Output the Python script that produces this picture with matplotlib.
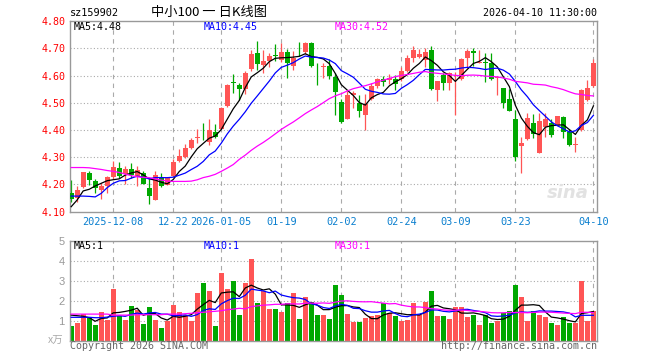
import numpy as np
import matplotlib
matplotlib.use('Agg')
import matplotlib.pyplot as plt
import pandas as pd

# ---------------- data ----------------
opens = [4.170, 4.151, 4.190, 4.243, 4.212, 4.179, 4.194, 4.229, 4.259, 4.237,
         4.255, 4.227, 4.241, 4.188, 4.143, 4.225, 4.199, 4.231, 4.286, 4.301,
         4.334, 4.369, 4.383, 4.357, 4.394, 4.405, 4.488, 4.575, 4.565, 4.550,
         4.623, 4.684, 4.638, 4.654, 4.676, 4.656, 4.687, 4.635, 4.688, 4.687,
         4.721, 4.633, 4.632, 4.635, 4.595, 4.503, 4.442, 4.530, 4.500, 4.455,
         4.513, 4.562, 4.589, 4.583, 4.589, 4.586, 4.617, 4.666, 4.668, 4.657,
         4.694, 4.547, 4.602, 4.574, 4.575, 4.586, 4.663, 4.692, 4.647, 4.650,
         4.645, 4.590, 4.553, 4.514, 4.439, 4.342, 4.367, 4.425, 4.317, 4.412,
         4.425, 4.418, 4.447, 4.394, 4.345, 4.400, 4.510, 4.562]
highs = [4.216, 4.194, 4.246, 4.249, 4.221, 4.206, 4.231, 4.286, 4.282, 4.268,
         4.278, 4.268, 4.249, 4.219, 4.249, 4.241, 4.228, 4.292, 4.329, 4.347,
         4.372, 4.403, 4.425, 4.439, 4.421, 4.483, 4.570, 4.605, 4.574, 4.617,
         4.694, 4.727, 4.694, 4.684, 4.715, 4.721, 4.697, 4.690, 4.724, 4.722,
         4.722, 4.648, 4.648, 4.660, 4.611, 4.513, 4.543, 4.545, 4.527, 4.531,
         4.574, 4.592, 4.599, 4.605, 4.601, 4.633, 4.675, 4.709, 4.697, 4.703,
         4.709, 4.581, 4.608, 4.612, 4.614, 4.666, 4.697, 4.700, 4.694, 4.682,
         4.682, 4.598, 4.556, 4.550, 4.474, 4.376, 4.461, 4.459, 4.464, 4.464,
         4.442, 4.453, 4.452, 4.403, 4.373, 4.549, 4.584, 4.660]
lows = [4.137, 4.137, 4.188, 4.197, 4.170, 4.148, 4.167, 4.219, 4.225, 4.200,
        4.222, 4.194, 4.200, 4.129, 4.141, 4.192, 4.196, 4.229, 4.284, 4.298,
        4.329, 4.353, 4.363, 4.344, 4.371, 4.404, 4.486, 4.537, 4.510, 4.531,
        4.617, 4.619, 4.611, 4.633, 4.654, 4.650, 4.592, 4.621, 4.672, 4.678,
        4.632, 4.564, 4.592, 4.586, 4.455, 4.424, 4.440, 4.482, 4.449, 4.400,
        4.511, 4.556, 4.562, 4.570, 4.547, 4.580, 4.613, 4.650, 4.666, 4.633,
        4.546, 4.507, 4.547, 4.547, 4.455, 4.584, 4.629, 4.635, 4.645, 4.578,
        4.584, 4.527, 4.482, 4.469, 4.287, 4.243, 4.365, 4.369, 4.314, 4.376,
        4.374, 4.417, 4.372, 4.341, 4.320, 4.397, 4.508, 4.559]
closes = [4.145, 4.179, 4.246, 4.215, 4.186, 4.194, 4.227, 4.264, 4.231, 4.255,
          4.233, 4.253, 4.203, 4.157, 4.233, 4.194, 4.224, 4.282, 4.304, 4.333,
          4.363, 4.374, 4.380, 4.399, 4.374, 4.482, 4.564, 4.571, 4.552, 4.611,
          4.678, 4.641, 4.654, 4.672, 4.673, 4.687, 4.645, 4.663, 4.686, 4.721,
          4.635, 4.630, 4.634, 4.599, 4.541, 4.429, 4.529, 4.536, 4.470, 4.494,
          4.562, 4.589, 4.577, 4.590, 4.568, 4.617, 4.666, 4.694, 4.678, 4.687,
          4.550, 4.580, 4.574, 4.611, 4.578, 4.660, 4.692, 4.682, 4.650, 4.646,
          4.586, 4.595, 4.500, 4.471, 4.302, 4.351, 4.443, 4.384, 4.434, 4.439,
          4.380, 4.451, 4.392, 4.345, 4.350, 4.547, 4.553, 4.648]
volumes = [0.73, 0.90, 1.33, 1.12, 0.78, 1.43, 1.03, 2.60, 1.23, 1.03,
           1.73, 1.53, 0.83, 1.67, 1.03, 0.62, 1.00, 1.78, 1.43, 1.28,
           1.00, 2.40, 2.90, 2.50, 0.73, 3.40, 2.60, 3.00, 1.28, 2.90,
           4.10, 1.90, 2.50, 1.57, 1.57, 1.43, 1.87, 2.40, 1.07, 2.20,
           1.93, 1.28, 1.28, 1.08, 2.80, 2.30, 1.33, 0.93, 0.93, 1.12,
           1.23, 1.28, 1.87, 1.37, 1.23, 1.00, 1.03, 1.87, 1.28, 1.95,
           2.50, 1.23, 1.23, 1.08, 1.67, 1.70, 1.20, 1.30, 0.80, 1.30,
           0.90, 1.00, 1.40, 1.50, 2.80, 2.20, 1.00, 1.50, 1.30, 1.20,
           0.90, 0.80, 1.20, 0.90, 0.90, 3.00, 1.00, 1.50]

# moving-average values read off the chart where the window has no history
ma5_head = [4.118, 4.143, 4.176, 4.182]
ma10_head = [4.157, 4.157, 4.157, 4.156, 4.154, 4.167, 4.188, 4.204, 4.213]
ma30_head = [4.262, 4.262, 4.262, 4.261, 4.258, 4.255, 4.251, 4.248, 4.244, 4.238,
             4.232, 4.228, 4.226, 4.225, 4.220, 4.216, 4.212, 4.211, 4.211, 4.211,
             4.212, 4.217, 4.225, 4.230, 4.237, 4.248, 4.260, 4.273, 4.292]
vol_ma5_head = [1.28, 1.25, 1.22, 1.15]
vol_ma10_head = [1.17, 1.17, 1.17, 1.17, 1.15, 1.15, 1.18, 1.22, 1.25]
vol_ma30_head = [1.33, 1.33, 1.33, 1.33, 1.33, 1.33, 1.33, 1.28, 1.28, 1.28,
                 1.28, 1.30, 1.30, 1.30, 1.30, 1.30, 1.33, 1.33, 1.33, 1.35,
                 1.37, 1.40, 1.42, 1.45, 1.47, 1.50, 1.55, 1.58, 1.62]

tick_idx = [7, 17, 25, 35, 45, 55, 64, 74, 87]
tick_labels = ['2025-12-08', '12-22', '2026-01-05', '01-19', '02-02',
               '02-24', '03-09', '03-23', '04-10']
price_ticks = [4.10, 4.20, 4.30, 4.40, 4.50, 4.60, 4.70, 4.80]
vol_ticks = [1, 2, 3, 4, 5]

title_code = 'sz159902'
title_name = '中小100 一 日K线图'
timestamp = '2026-04-10 11:30:00'
legend_price = ['MA5:4.48', 'MA10:4.45', 'MA30:4.52']
legend_vol = ['MA5:1', 'MA10:1', 'MA30:1']

# ---------------- style ----------------
RED = '#ff5555'
GREEN = '#00a800'
MA_COLORS = ['#000000', '#0000ff', '#ff00ff']
FRAME = '#999999'
GRID = '#aaaaaa'
MONO = 'DejaVu Sans Mono'
W, H = 660, 360

def fx(px):
    return px / W

def fy(py):
    return 1 - py / H

def moving(values, n, head):
    s = pd.Series(values).rolling(n).mean().to_numpy()
    s[:len(head)] = head
    return s

fig = plt.figure(figsize=(6.6, 3.6), dpi=100)
fig.patch.set_facecolor('white')

# axes geometry (pixels)
L, R = 70, 597
T1, B1 = 21.2, 211.6
T2, B2 = 240.7, 340.7
ax = fig.add_axes([fx(L), fy(B1), fx(R - L), (B1 - T1) / H])
ax2 = fig.add_axes([fx(L), fy(B2), fx(R - L), (B2 - T2) / H])

n = len(closes)
x = np.arange(n)
xlim = (-0.2, 87.6)
up = [c >= o for o, c in zip(opens, closes)]
cols = [RED if u else GREEN for u in up]

for a in (ax, ax2):
    a.set_xlim(*xlim)
    for s in a.spines.values():
        s.set_color(FRAME)
        s.set_linewidth(1.0)
    a.tick_params(length=0)
    for t in tick_idx:
        a.axvline(t, color=GRID, lw=0.8, ls=(0, (4, 4)), zorder=0)

# ---- price panel ----
ax.set_ylim(4.10, 4.80)
for p in price_ticks[1:-1]:
    ax.axhline(p, color=GRID, lw=0.8, ls=(0, (1, 2)), zorder=0)

ax.vlines(x, lows, highs, colors=cols, lw=0.9, zorder=2)
body_bottom = np.minimum(opens, closes)
body_h = np.abs(np.array(closes) - np.array(opens))
ax.bar(x, np.maximum(body_h, 0.0025), bottom=body_bottom, width=0.78,
       color=cols, linewidth=0, zorder=3)

ma_lines = [moving(closes, 5, ma5_head), moving(closes, 10, ma10_head),
            moving(closes, 30, ma30_head)]
for m, c in zip(ma_lines, MA_COLORS):
    ax.plot(x, m, color=c, lw=0.9, zorder=4)

ax.set_yticks(price_ticks)
ax.set_yticklabels(['%.2f' % p for p in price_ticks], color='#ff0000',
                   family=MONO, fontsize=7.2)
ax.tick_params(axis='y', pad=3)
ax.set_xticks(tick_idx)
ax.set_xticklabels(tick_labels, color='#0a7fcf', family=MONO, fontsize=7.4)
ax.tick_params(axis='x', pad=4)

# watermark
ax.text(0.985, 0.05, 'sina', transform=ax.transAxes, ha='right', va='bottom',
        fontsize=13, color='#e2e2e2', style='italic', weight='bold', zorder=1)

# ---- volume panel ----
ax2.set_ylim(0, 5)
for v in vol_ticks[:-1]:
    ax2.axhline(v, color=GRID, lw=0.8, ls=(0, (1, 2)), zorder=0)
ax2.bar(x, volumes, width=0.78, color=cols, linewidth=0, zorder=2)
vol_ma = [moving(volumes, 5, vol_ma5_head), moving(volumes, 10, vol_ma10_head),
          moving(volumes, 30, vol_ma30_head)]
for m, c in zip(vol_ma, MA_COLORS):
    ax2.plot(x, m, color=c, lw=0.9, zorder=4)
ax2.set_yticks(vol_ticks)
ax2.set_yticklabels([str(v) for v in vol_ticks], color='#999999',
                    family='Liberation Sans', fontsize=8)
ax2.tick_params(axis='y', pad=4)
ax2.set_xticks([])

# ---- texts ----
fig.text(fx(70), fy(13), title_code, family=MONO, fontsize=7.4,
         ha='left', va='center', color='#000000')
fig.text(fx(209), fy(12.5), title_name, family=['Noto Sans CJK SC', 'DejaVu Sans'],
         fontsize=9.5, ha='center', va='center', color='#000000')
fig.text(fx(597), fy(13), timestamp, family=MONO, fontsize=7.2,
         ha='right', va='center', color='#000000')

for txt, px, c in zip(legend_price, [74, 204, 334.5], MA_COLORS):
    fig.text(fx(px), fy(26.5), txt, family=MONO, fontsize=7.2, ha='left',
             va='center', color=c)
for txt, px, c in zip(legend_vol, [74, 204, 334.5], MA_COLORS):
    fig.text(fx(px), fy(246), txt, family=MONO, fontsize=7.2, ha='left',
             va='center', color=c)

fig.text(fx(63), fy(341), 'x万', family=['Noto Sans CJK SC', 'DejaVu Sans'],
         fontsize=7.5, ha='right', va='center', color='#aaaaaa', style='italic')
fig.text(fx(70), fy(346), 'Copyright 2026 SINA.COM', family=MONO, fontsize=7.2,
         ha='left', va='center', color='#666666')
fig.text(fx(597), fy(346), 'http://finance.sina.com.cn', family=MONO,
         fontsize=7.2, ha='right', va='center', color='#666666')

fig.savefig('out.png', dpi=100)
